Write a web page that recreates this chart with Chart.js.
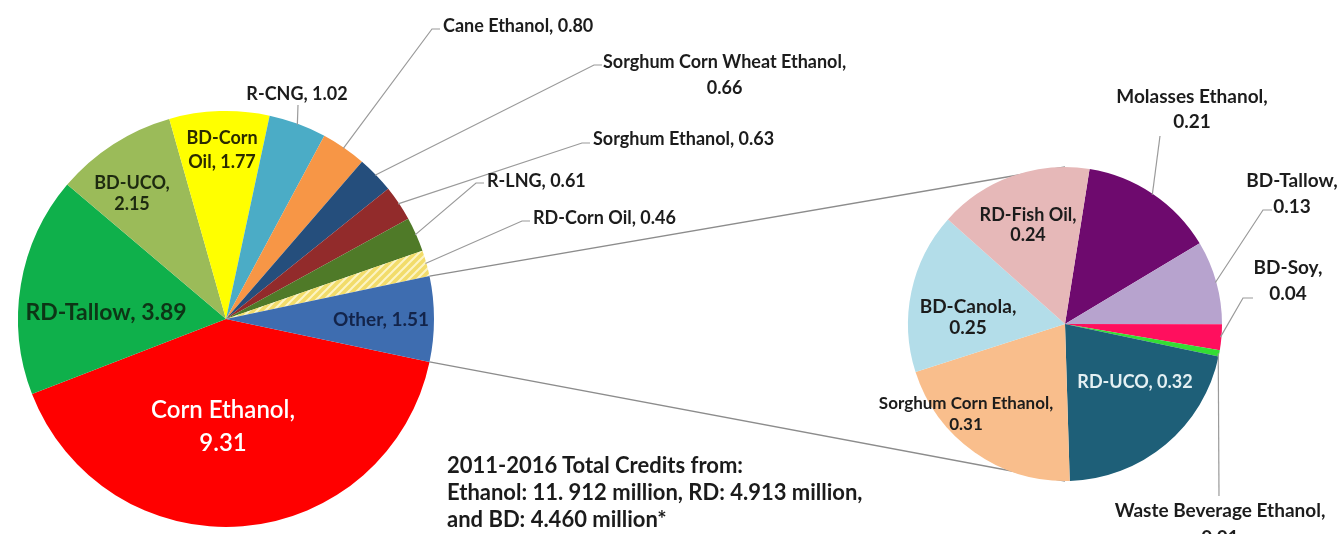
<!DOCTYPE html>
<html>
<head>
<meta charset="utf-8">
<script src="https://cdn.jsdelivr.net/npm/chart.js@4/dist/chart.umd.min.js"></script>
<style>
  html, body { margin: 0; padding: 0; background: #fff; }
  #wrap { position: relative; width: 1342px; height: 534px; overflow: hidden; }
  #wrap canvas { position: absolute; left: 0; top: 0; }
  #note { position: absolute; left: 447px; top: 451px; font: 700 22px Lato, sans-serif; line-height: 27px; color: #1b1b1b; white-space: nowrap; }
</style>
</head>
<body>
<div id="wrap">
  <canvas id="main-pie" width="1342" height="534"></canvas>
  <canvas id="other-pie" width="1342" height="534"></canvas>
  <div id="note">2011-2016 Total Credits from:<br>Ethanol: 11. 912 million, RD: 4.913 million,<br>and BD: 4.460 million*</div>
</div>
<script>
// main pie, clockwise from Corn Ethanol; the last slice is split out into the second pie
const mainCategories = ['Corn Ethanol', 'RD-Tallow', 'BD-UCO', 'BD-Corn Oil', 'R-CNG', 'Cane Ethanol',
  'Sorghum Corn Wheat Ethanol', 'Sorghum Ethanol', 'R-LNG', 'RD-Corn Oil', 'Other'];
const mainValues = [9.31, 3.89, 2.15, 1.77, 1.02, 0.80, 0.66, 0.63, 0.61, 0.46, 1.51];

// second pie ("Other"), clockwise from the top
const otherCategories = ['Molasses Ethanol', 'BD-Tallow', 'BD-Soy', 'Waste Beverage Ethanol', 'RD-UCO',
  'Sorghum Corn Ethanol', 'BD-Canola', 'RD-Fish Oil'];
const otherValues = [0.21, 0.13, 0.04, 0.01, 0.32, 0.31, 0.25, 0.24];

function hatch() {
  const c = document.createElement('canvas');
  c.width = 8; c.height = 8;
  const g = c.getContext('2d');
  g.fillStyle = '#F2DC6A'; g.fillRect(0, 0, 8, 8);
  g.strokeStyle = '#FCF4C4'; g.lineWidth = 2;
  g.beginPath(); g.moveTo(-2, 10); g.lineTo(10, -2); g.moveTo(-2, 2); g.lineTo(2, -2); g.moveTo(6, 10); g.lineTo(10, 6); g.stroke();
  return g.createPattern(c, 'repeat');
}

const mainColors = ['#FF0000', '#0FB04B', '#9BBB59', '#FFFF00', '#4BACC6', '#F79646',
  '#254E7C', '#922B2B', '#4F7A28', hatch(), '#3E6DB0'];
const otherColors = ['#6E0A6E', '#B7A3CE', '#FF0F5E', '#33DD33', '#1E5F78', '#F9BE8C', '#B3DDE9', '#E6B8B8'];

// label placement (x, y of text, leader anchor)
const mainLayout = [
  { x: 223, y: 410, wrap: 'comma', color: '#ffffff', size: 24, weight: 600, lh: 33 },
  { x: 106, y: 313, size: 23, color: '#0d3516' },
  { x: 132, y: 183, wrap: 'comma', size: 18, lh: 21, color: '#1e2a10' },
  { x: 222, y: 138, wrap: 'word', size: 18, lh: 24, color: '#2a2a00' },
  { x: 297, y: 94, leader: [298, 105] },
  { left: 443, y: 26, leader: [432, 29], tick: 8 },
  { left: 603, y: 62, wrap: 'comma', lh: 26, leader: [594, 65], tick: 8 },
  { left: 593, y: 139, leader: [582, 143], tick: 8 },
  { left: 487, y: 181, leader: [476, 183], tick: 8 },
  { left: 533, y: 218, leader: [522, 221], tick: 8 },
  { x: 381, y: 320, size: 19, color: '#13244a' }
];
const otherLayout = [
  { x: 1192, y: 97, wrap: 'comma', lh: 25, leader: [1160, 136] },
  { x: 1292, y: 181, wrap: 'comma', lh: 26, leader: [1263, 210], tick: 9 },
  { x: 1288, y: 268, wrap: 'comma', lh: 26, leader: [1243, 298], tick: 10 },
  { x: 1220, y: 511, wrap: 'comma', lh: 27, leader: [1219, 496] },
  { x: 1135, y: 382, size: 18, color: '#e4f0f3' },
  { x: 966, y: 404, wrap: 'comma', lh: 21, size: 17 },
  { x: 968, y: 307, wrap: 'comma', lh: 21, size: 19 },
  { x: 1028, y: 215, wrap: 'comma', lh: 20, size: 18 }
];

const LEADER = '#9a9a9a';
const LABEL_SIZE = { main: 18, other: 19 };

function midPoint(el, r) {
  const a = (el.startAngle + el.endAngle) / 2;
  return [el.x + Math.cos(a) * r, el.y + Math.sin(a) * r];
}

const sliceLabels = {
  id: 'sliceLabels',
  afterDatasetsDraw(chart, args, opts) {
    const ctx = chart.ctx;
    const meta = chart.getDatasetMeta(0);
    const cats = chart.data.labels;
    const vals = chart.data.datasets[0].data;
    ctx.save();
    opts.layout.forEach((L, i) => {
      const el = meta.data[i];
      const v = vals[i].toFixed(2);
      let lines = [`${cats[i]}, ${v}`];
      if (L.wrap === 'comma') lines = [cats[i] + ',', v];
      if (L.wrap === 'word') {
        const k = cats[i].indexOf(' ');
        lines = [cats[i].slice(0, k), `${cats[i].slice(k + 1)}, ${v}`];
      }
      if (L.leader) {
        const [px, py] = midPoint(el, el.outerRadius - 1);
        ctx.strokeStyle = LEADER; ctx.lineWidth = 1.2;
        ctx.beginPath(); ctx.moveTo(px, py); ctx.lineTo(L.leader[0], L.leader[1]);
        if (L.tick) ctx.lineTo(L.leader[0] + L.tick, L.leader[1]);
        ctx.stroke();
      }
      ctx.font = `${L.weight || 700} ${L.size || opts.size}px Lato, sans-serif`;
      ctx.fillStyle = L.color || '#1c1c1c';
      ctx.textAlign = 'center';
      ctx.textBaseline = 'middle';
      let cx = L.x;
      if (L.left !== undefined) cx = L.left + Math.max(...lines.map((s) => ctx.measureText(s).width)) / 2;
      lines.forEach((s, j) => ctx.fillText(s, cx, L.y + j * (L.lh || 22)));
    });
    ctx.restore();
  }
};

let otherChart;

// lines from the edges of the "Other" slice to the top and bottom of the second pie
const seriesLines = {
  id: 'seriesLines',
  afterDatasetsDraw(chart) {
    if (!otherChart) return;
    const el = chart.getDatasetMeta(0).data[mainValues.length - 1];
    const o = otherChart.getDatasetMeta(0).data[0];
    const r = el.outerRadius;
    const ctx = chart.ctx;
    ctx.save();
    ctx.strokeStyle = '#8c8c8c'; ctx.lineWidth = 1.3;
    ctx.beginPath();
    ctx.moveTo(el.x + Math.cos(el.startAngle) * r, el.y + Math.sin(el.startAngle) * r);
    ctx.lineTo(o.x, o.y - o.outerRadius);
    ctx.moveTo(el.x + Math.cos(el.endAngle) * r, el.y + Math.sin(el.endAngle) * r);
    ctx.lineTo(o.x, o.y + o.outerRadius);
    ctx.stroke();
    ctx.restore();
  }
};

const total = mainValues.reduce((a, b) => a + b, 0);
const otherDeg = mainValues[mainValues.length - 1] / total * 360;

function pieOptions(padding, rotation, layout, size) {
  return {
    responsive: false,
    animation: false,
    devicePixelRatio: 1,
    rotation,
    layout: { padding },
    plugins: { legend: { display: false }, tooltip: { enabled: false }, sliceLabels: { layout, size } }
  };
}

otherChart = new Chart(document.getElementById('other-pie'), {
  type: 'pie',
  data: { labels: otherCategories, datasets: [{ data: otherValues, backgroundColor: otherColors, borderWidth: 0 }] },
  options: pieOptions({ left: 908, right: 120, top: 167, bottom: 53 }, 9, otherLayout, LABEL_SIZE.other),
  plugins: [sliceLabels]
});

new Chart(document.getElementById('main-pie'), {
  type: 'pie',
  data: { labels: mainCategories, datasets: [{ data: mainValues, backgroundColor: mainColors, borderWidth: 0 }] },
  options: pieOptions({ left: 18, right: 908, top: 111, bottom: 7 }, 90 + otherDeg / 2, mainLayout, LABEL_SIZE.main),
  plugins: [seriesLines, sliceLabels]
});
</script>
</body>
</html>
